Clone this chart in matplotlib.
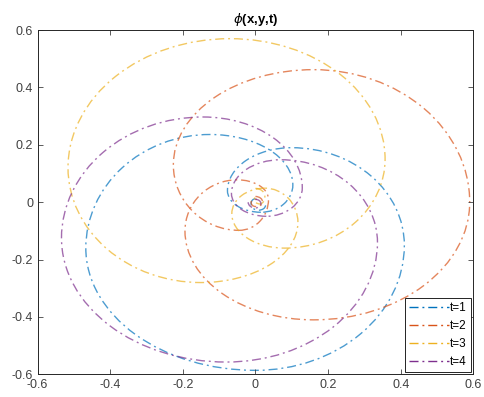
import numpy as np
import matplotlib
matplotlib.use("Agg")
import matplotlib.pyplot as plt
from matplotlib.path import Path
from matplotlib.patches import PathPatch
from matplotlib.lines import Line2D

plt.rcParams["font.family"] = ["Liberation Sans", "DejaVu Sans"]

# turning points of each trajectory, in drawing order
# even index = top/bottom point, odd index = left/right point
t1_x = [0.015, -0.077, 0.10, 0.41, 0.0, -0.467, -0.125, 0.103, 0.015]
t1_y = [-0.035, 0.04, 0.19, -0.15, -0.586, -0.16, 0.236, 0.06, -0.035]
t2_x = [-0.045, 0.036, -0.05, -0.194, 0.16, 0.59, 0.16, -0.226, -0.045]
t2_y = [-0.098, 0.01, 0.078, -0.10, -0.41, 0.0, 0.462, 0.13, -0.098]
t3_x = [0.026, -0.065, 0.08, 0.357, -0.07, -0.516, -0.15, 0.117, 0.026]
t3_y = [0.049, -0.04, -0.16, 0.15, 0.57, 0.12, -0.28, -0.07, 0.049]
t4_x = [0.03, -0.066, 0.07, 0.336, -0.08, -0.534, -0.144, 0.129, 0.03]
t4_y = [-0.049, 0.03, 0.148, -0.14, -0.557, -0.125, 0.297, 0.05, -0.049]

# small curls close to the origin
c1_x = [0.0, -0.012, 0.008, 0.028]
c1_y = [0.012, -0.005, -0.028, -0.01]
c2_x = [0.0, 0.02, 0.0, -0.012, 0.004]
c2_y = [0.02, 0.0, -0.015, 0.0, 0.01]
c3_x = [0.0, 0.026, 0.012, -0.003, 0.008]
c3_y = [0.048, 0.02, -0.006, 0.01, 0.02]
c4_x = [0.0, 0.015, 0.0, -0.02]
c4_y = [0.01, -0.005, -0.02, 0.0]

labels = ["t=1", "t=2", "t=3", "t=4"]
colors = ["#0072BD", "#D95319", "#EDB120", "#7E2F8E"]
ticks = [-0.6, -0.4, -0.2, 0, 0.2, 0.4, 0.6]
ticklabels = ["-0.6", "-0.4", "-0.2", "0", "0.2", "0.4", "0.6"]

dashdot = (0, (6.5, 2.8, 1.4, 2.8))


def loop_path(xs, ys):
    # quarter ellipses between successive turning points, joined into one path
    verts, codes = [], []
    for i in range(len(xs) - 1):
        p, q = (xs[i], ys[i]), (xs[i + 1], ys[i + 1])
        v, h = (p, q) if i % 2 == 0 else (q, p)
        cx, cy = v[0], h[1]
        rx, ry = max(abs(h[0] - cx), 1e-4), max(abs(v[1] - cy), 1e-4)
        av = 90 if v[1] > cy else 270
        ah = 0 if h[0] > cx else 180
        a1 = av if i % 2 == 0 else ah
        a2 = ah if i % 2 == 0 else av
        if (a2 - a1) % 360 == 90:
            arc = Path.arc(a1, a1 + 90)
            pts = arc.vertices
        else:
            arc = Path.arc(a2, a2 + 90)
            pts = arc.vertices[::-1]
        pts = pts * [rx, ry] + [cx, cy]
        if i == 0:
            verts.extend(pts)
            codes.extend(arc.codes)
        else:
            verts.extend(pts[1:])
            codes.extend(arc.codes[1:])
    return Path(np.array(verts), codes)


fig = plt.figure(figsize=(4.84, 3.97), dpi=100)
ax = fig.add_axes([0.0775, 0.057, 0.9005, 0.8673])

series = [(t1_x, t1_y, c1_x, c1_y), (t2_x, t2_y, c2_x, c2_y),
          (t3_x, t3_y, c3_x, c3_y), (t4_x, t4_y, c4_x, c4_y)]
for (mx, my, cx, cy), col in zip(series, colors):
    for xs, ys in [(mx, my), (cx, cy)]:
        ax.add_patch(PathPatch(loop_path(xs, ys), fill=False, edgecolor=col,
                               lw=1.0, alpha=0.7, linestyle=dashdot))

ax.set_xlim(-0.6, 0.6)
ax.set_ylim(-0.6, 0.6)
ax.set_xticks(ticks)
ax.set_xticklabels(ticklabels)
ax.set_yticks(ticks)
ax.set_yticklabels(ticklabels)
ax.tick_params(direction="in", top=True, right=True, length=3.5, width=0.6,
               labelsize=9, colors="#404040", pad=3)
for s in ax.spines.values():
    s.set_linewidth(0.7)
    s.set_color("#262626")

ax.set_title(r"$\phi$(x,y,t)", fontsize=9.5, fontweight="bold", pad=5)

handles = [Line2D([], [], color=c, lw=1.0, linestyle=dashdot) for c in colors]
leg = ax.legend(handles, labels, loc="lower right", fontsize=8.5,
                fancybox=False, edgecolor="k", framealpha=1,
                handlelength=3.4, handletextpad=0.1, labelspacing=0.5,
                borderaxespad=0.2, borderpad=0.35)
leg.get_frame().set_linewidth(0.6)

fig.savefig("out.png", dpi=100)
